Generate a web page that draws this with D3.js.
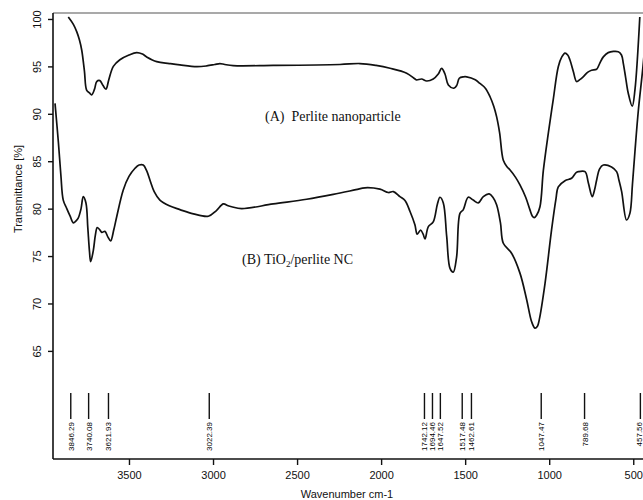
<!DOCTYPE html>
<html>
<head>
<meta charset="utf-8">
<script src="https://cdn.jsdelivr.net/npm/d3@7"></script>
<style>
  body { margin: 0; background: #fff; }
  #wrapper svg { display: block; }
  .curve { fill: none; stroke: #111; stroke-width: 1.7; stroke-linejoin: round; }
  .tick-label { font-family: "Liberation Sans", Arial, sans-serif; font-size: 11px; fill: #111; }
  .axis-title { font-family: "Liberation Sans", Arial, sans-serif; font-size: 11px; fill: #111; }
  .peak-label { font-family: "Liberation Sans", Arial, sans-serif; font-size: 8px; fill: #000; }
  .annotation { font-family: "Liberation Serif", "Times New Roman", serif; font-size: 14px; fill: #111; white-space: pre; }
</style>
</head>
<body>
<div id="wrapper"></div>
<script>
// wavenumber (cm-1) / transmittance (%)
const perliteWave = [3861, 3830, 3811, 3795, 3781, 3765, 3752, 3735, 3722, 3705, 3692, 3673, 3655, 3637, 3620, 3593, 3554, 3500, 3454, 3420, 3395, 3335, 3260, 3197, 3097, 3038, 2990, 2959, 2930, 2880, 2642, 2245, 2126, 2030, 1947, 1848, 1800, 1789, 1759, 1729, 1690, 1660, 1640, 1620, 1600, 1567, 1550, 1535, 1510, 1491, 1440, 1412, 1380, 1352, 1330, 1313, 1295, 1273, 1250, 1234, 1200, 1174, 1140, 1115, 1100, 1089, 1075, 1055, 1035, 1005, 976, 946, 925, 906, 890, 877, 857, 837, 818, 798, 770, 748, 718, 700, 678, 649, 589, 570, 559, 545, 530, 506, 490, 461];
const perliteTrans = [100.2, 99.4, 98.66, 97.8, 96.7, 94.5, 92.5, 92.2, 92.0, 92.6, 93.4, 93.5, 93.0, 92.6, 93.6, 95.0, 95.7, 96.2, 96.45, 96.3, 96.0, 95.5, 95.3, 95.15, 94.97, 95.05, 95.2, 95.3, 95.2, 95.08, 95.1, 95.2, 95.3, 95.1, 94.8, 94.28, 93.7, 93.57, 93.67, 93.46, 93.67, 94.2, 94.8, 94.2, 93.04, 92.7, 93.0, 93.75, 93.9, 93.9, 93.6, 93.2, 92.7, 91.8, 90.8, 89.7, 88.0, 85.1, 84.4, 84.1, 83.3, 82.5, 81.2, 79.9, 79.2, 79.05, 79.3, 80.2, 84.0, 88.0, 91.5, 94.97, 96.0, 96.4, 96.2, 95.7, 94.5, 93.4, 93.6, 93.9, 94.4, 94.6, 94.7, 95.3, 96.0, 96.45, 96.55, 96.2, 95.3, 93.8, 92.2, 90.8, 92.5, 100.2];

const tioWave = [3940, 3920, 3905, 3891, 3870, 3850, 3831, 3815, 3802, 3785, 3772, 3756, 3745, 3735, 3728, 3712, 3700, 3689, 3675, 3662, 3643, 3625, 3609, 3590, 3573, 3534, 3500, 3464, 3440, 3415, 3395, 3375, 3350, 3316, 3260, 3197, 3117, 3028, 2980, 2939, 2910, 2889, 2830, 2642, 2443, 2285, 2150, 2096, 2007, 1957, 1927, 1888, 1858, 1828, 1799, 1785, 1765, 1750, 1739, 1719, 1690, 1665, 1650, 1630, 1610, 1590, 1571, 1551, 1531, 1511, 1482, 1452, 1422, 1392, 1357, 1335, 1313, 1290, 1273, 1224, 1174, 1134, 1105, 1085, 1070, 1059, 1025, 986, 960, 946, 906, 867, 840, 827, 787, 767, 744, 730, 718, 700, 678, 629, 599, 585, 569, 540, 520, 505, 490, 470, 442, 430];
const tioTrans = [91.1, 87.0, 83.5, 80.9, 80.0, 79.2, 78.5, 78.7, 79.0, 80.0, 81.27, 80.6, 78.0, 75.5, 74.4, 75.6, 77.2, 78.0, 77.8, 77.5, 77.6, 77.0, 76.6, 77.8, 79.15, 81.97, 83.4, 84.26, 84.6, 84.6, 84.0, 83.0, 81.8, 80.9, 80.3, 79.9, 79.45, 79.2, 79.8, 80.5, 80.3, 80.2, 80.0, 80.5, 80.99, 81.5, 82.0, 82.2, 82.05, 81.7, 81.8, 81.27, 80.85, 79.7, 78.3, 77.3, 77.75, 77.3, 76.8, 78.1, 78.6, 80.5, 81.2, 80.6, 77.1, 73.7, 73.3, 74.9, 79.5, 79.9, 81.2, 80.9, 80.6, 81.27, 81.55, 81.2, 80.4, 78.5, 76.35, 75.3, 73.2, 70.4, 68.1, 67.4, 67.6, 68.3, 72.1, 77.75, 81.0, 82.3, 82.95, 83.2, 83.8, 83.9, 83.9, 82.7, 81.27, 82.0, 83.0, 84.2, 84.6, 84.4, 83.9, 83.0, 81.8, 78.8, 79.5, 82.5, 86.0, 90.3, 95.0, 97.5];

const peakLabels = ["3846.29", "3740.08", "3621.93", "3022.39", "1742.12", "1694.46", "1647.52", "1517.48", "1462.61", "1047.47", "789.68", "457.56"];
const xTicks = [3500, 3000, 2500, 2000, 1500, 1000, 500];
const yTicks = [65, 70, 75, 80, 85, 90, 95, 100];

function drawChart() {
  const waveAccessor = (d) => d[0];
  const transAccessor = (d) => d[1];

  const perlite = d3.zip(perliteWave, perliteTrans);
  const tio = d3.zip(tioWave, tioTrans);

  let dimensions = {
    width: 643,
    height: 500,
    margin: { top: 13, right: 0, bottom: 41, left: 53 },
  };
  dimensions.plotWidth = dimensions.width - dimensions.margin.left - dimensions.margin.right;
  dimensions.plotHeight = dimensions.height - dimensions.margin.top - dimensions.margin.bottom;

  const wrapper = d3.select("#wrapper")
    .append("svg")
    .attr("width", dimensions.width)
    .attr("height", dimensions.height);

  const plot = wrapper.append("g")
    .attr("transform", `translate(${dimensions.margin.left}, ${dimensions.margin.top})`);

  // scales (wavenumber decreasing to the right)
  const xScale = d3.scaleLinear()
    .domain([3952, 442])
    .range([0, dimensions.plotWidth]);

  const yScale = d3.scaleLinear()
    .domain([53.6, 100.63])
    .range([dimensions.plotHeight, 0]);

  wrapper.append("defs").append("clipPath")
    .attr("id", "plot-clip")
    .append("rect")
    .attr("width", dimensions.plotWidth)
    .attr("height", dimensions.plotHeight);

  const lineGenerator = d3.line()
    .x((d) => xScale(waveAccessor(d)))
    .y((d) => yScale(transAccessor(d)))
    .curve(d3.curveCatmullRom.alpha(0.5));

  const curves = plot.append("g").attr("clip-path", "url(#plot-clip)");
  curves.append("path").attr("class", "curve").attr("d", lineGenerator(perlite));
  curves.append("path").attr("class", "curve").attr("d", lineGenerator(tio));

  // peak markers near the bottom
  const peaks = plot.selectAll(".peak")
    .data(peakLabels)
    .enter()
    .append("g")
    .attr("class", "peak")
    .attr("transform", (d) => `translate(${xScale(+d)}, 0)`);

  peaks.append("line")
    .attr("y1", 380)
    .attr("y2", 406)
    .attr("stroke", "#111")
    .attr("stroke-width", 1.4);

  peaks.append("text")
    .attr("class", "peak-label")
    .attr("transform", (d, i) => `translate(${i == peakLabels.length - 1 ? 1.5 : 3}, 409) rotate(-90)`)
    .attr("text-anchor", "end")
    .text((d) => d);

  // top border
  plot.append("line")
    .attr("x1", 0).attr("x2", dimensions.plotWidth)
    .attr("y1", 0).attr("y2", 0)
    .attr("stroke", "#555").attr("stroke-width", 1.2);

  // axes
  const xAxisGenerator = d3.axisBottom(xScale)
    .tickValues(xTicks)
    .tickFormat(d3.format("d"))
    .tickSize(6)
    .tickSizeOuter(0)
    .tickPadding(6);

  const xAxis = plot.append("g")
    .attr("transform", `translate(0, ${dimensions.plotHeight})`)
    .call(xAxisGenerator);

  const yAxisGenerator = d3.axisLeft(yScale)
    .tickValues(yTicks)
    .tickFormat(d3.format("d"))
    .tickSize(5)
    .tickSizeOuter(0);

  const yAxis = plot.append("g").call(yAxisGenerator);

  [xAxis, yAxis].forEach((axis) => {
    axis.attr("font-size", null).attr("font-family", null);
    axis.select(".domain").attr("stroke", "#111").attr("stroke-width", 1.6);
    axis.selectAll(".tick line").attr("stroke", "#111").attr("stroke-width", 1.4);
    axis.selectAll(".tick text").attr("class", "tick-label");
  });

  yAxis.selectAll(".tick text")
    .attr("x", null)
    .attr("dy", null)
    .attr("text-anchor", "middle")
    .attr("transform", "translate(-12, 0) rotate(-90)");

  xAxis.select(".domain").attr("d", `M0,0H${dimensions.plotWidth}`);
  yAxis.select(".domain").attr("d", `M0,0V${dimensions.plotHeight}`);

  // titles
  wrapper.append("text")
    .attr("class", "axis-title")
    .attr("text-anchor", "middle")
    .attr("x", 347)
    .attr("y", 498)
    .text("Wavenumber cm-1");

  wrapper.append("text")
    .attr("class", "axis-title")
    .attr("text-anchor", "middle")
    .attr("transform", "translate(22, 189) rotate(-90)")
    .text("Transmittance [%]");

  // curve annotations
  wrapper.append("text")
    .attr("class", "annotation")
    .attr("x", 265)
    .attr("y", 121)
    .text("(A)  Perlite nanoparticle");

  const labelB = wrapper.append("text")
    .attr("class", "annotation")
    .attr("x", 242)
    .attr("y", 264);
  labelB.append("tspan").text("(B) TiO");
  labelB.append("tspan").attr("font-size", "9px").attr("dy", 3).text("2");
  labelB.append("tspan").attr("dy", -3).text("/perlite NC");
}
drawChart();
</script>
</body>
</html>
